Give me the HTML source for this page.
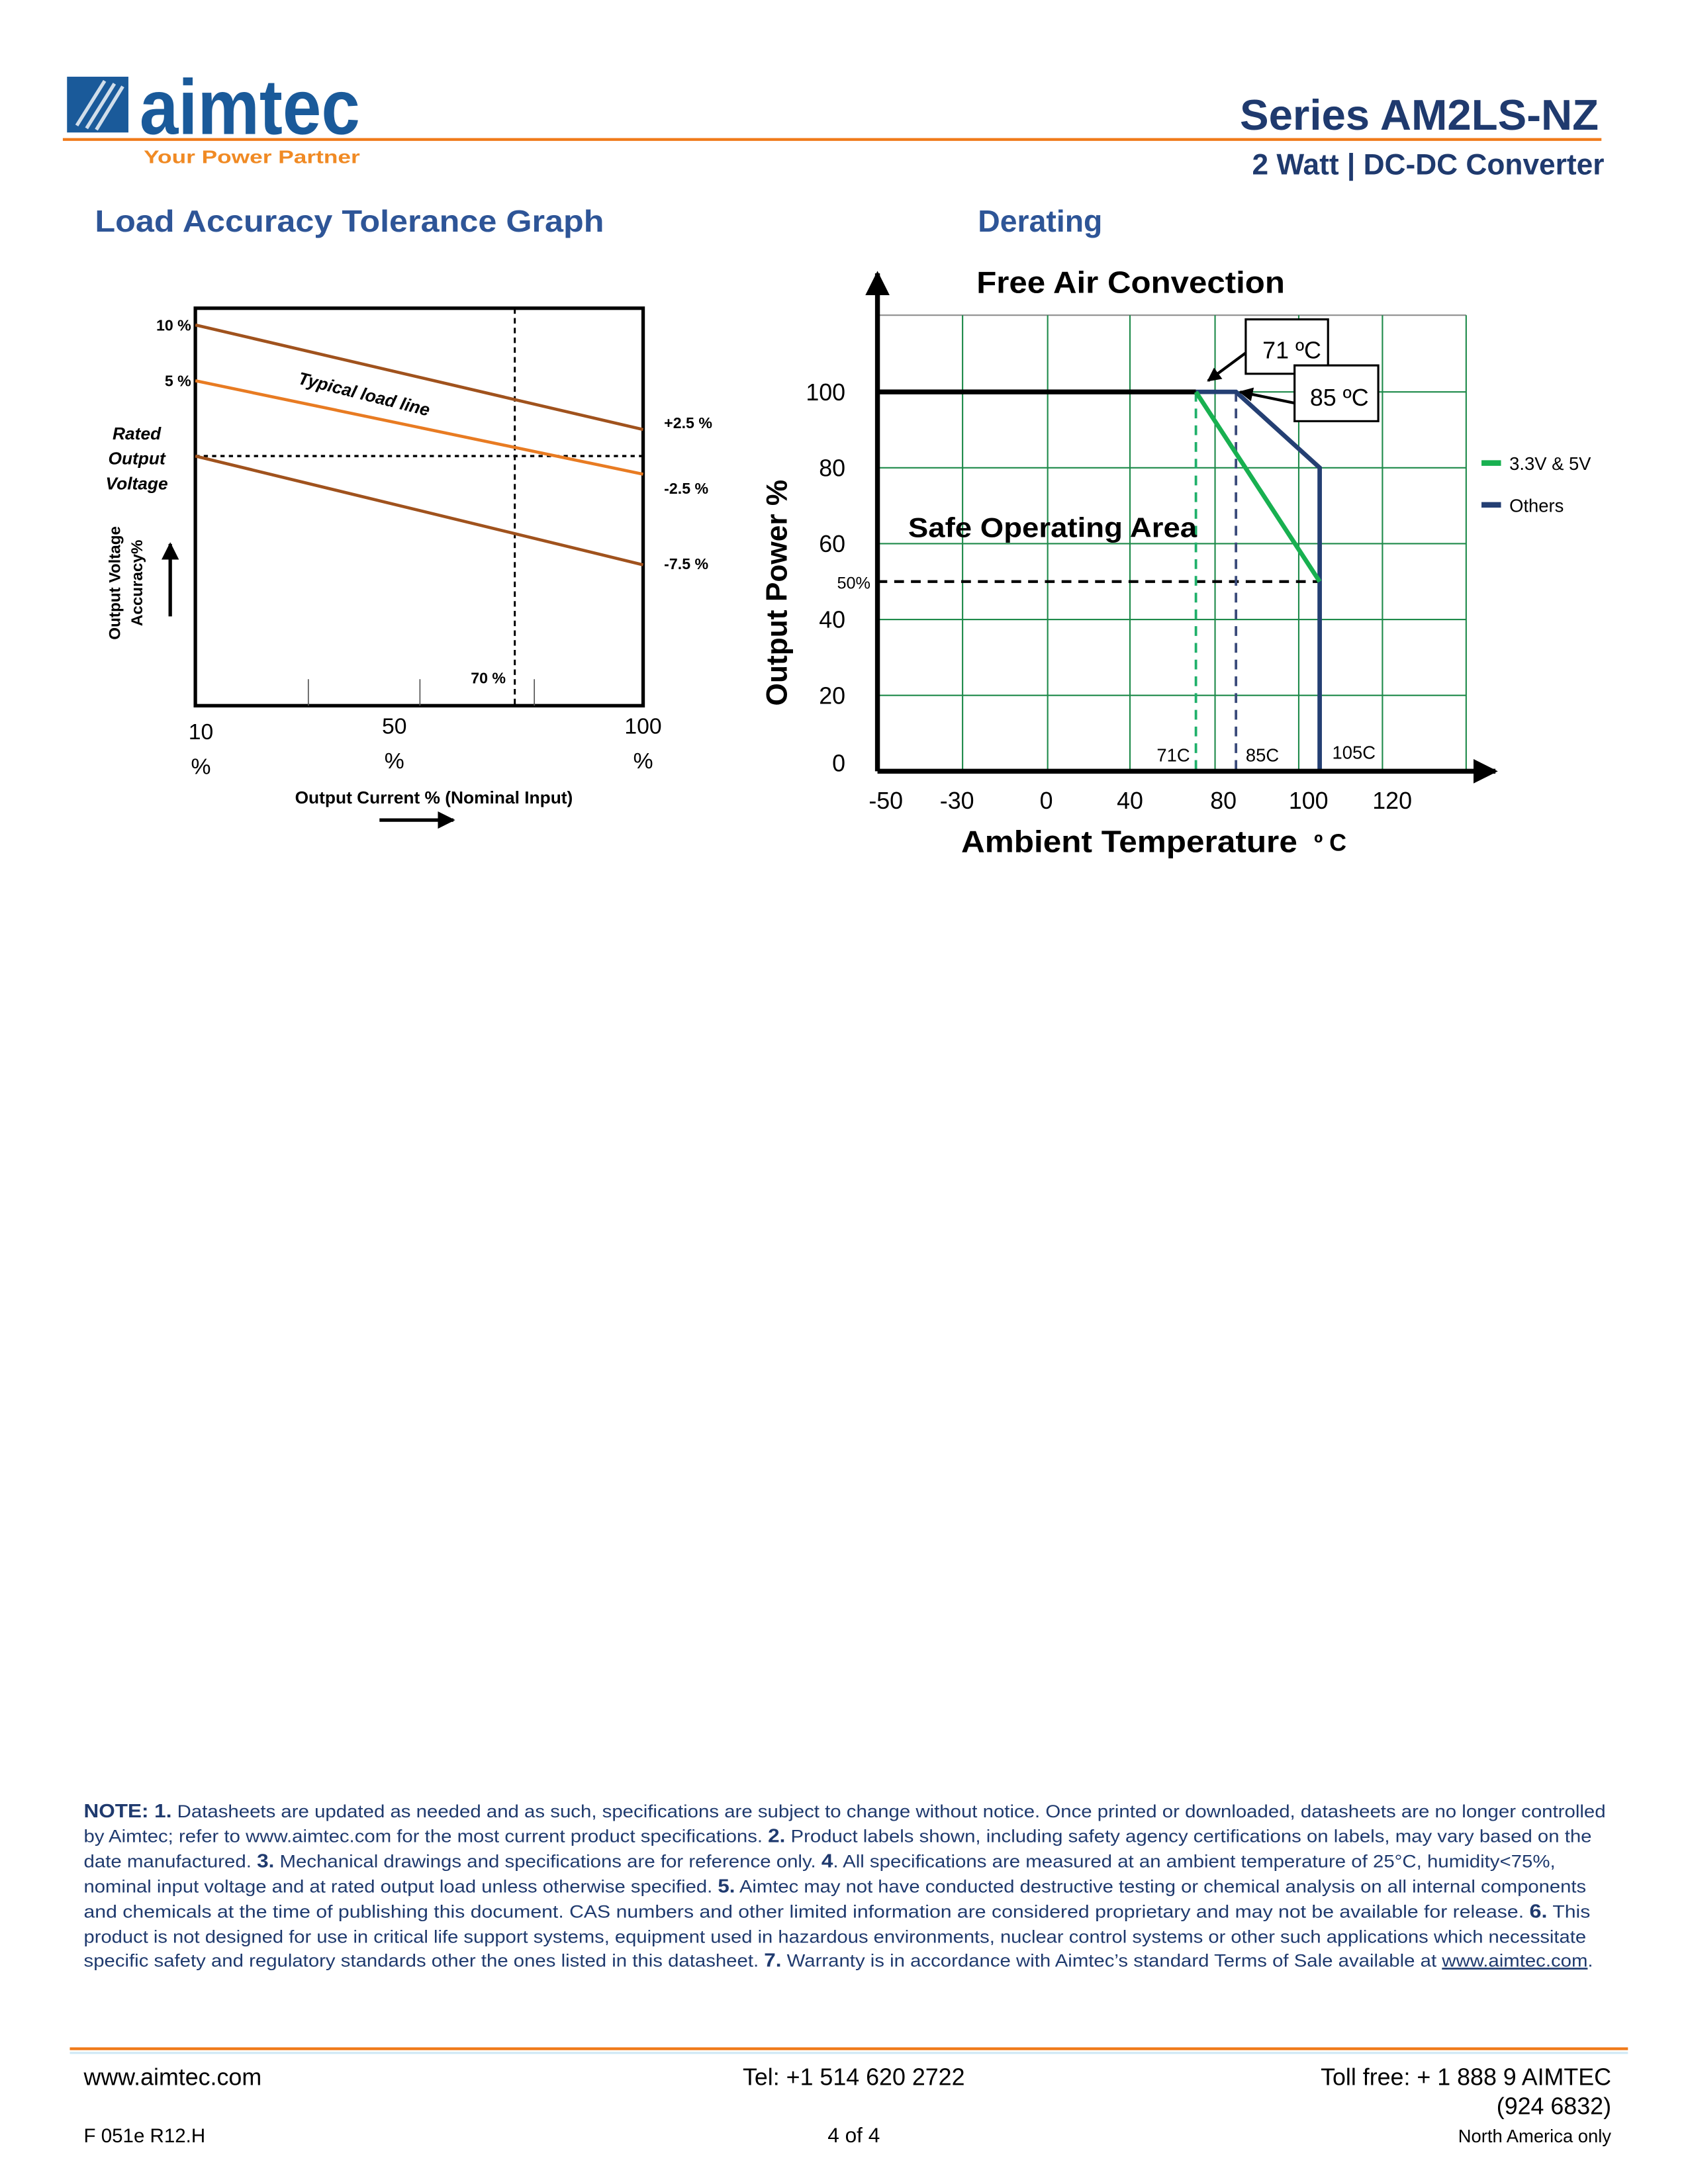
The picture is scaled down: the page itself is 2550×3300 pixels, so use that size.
<!DOCTYPE html>
<html><head><meta charset="utf-8"><style>
html,body{margin:0;padding:0;background:#fff}
svg{display:block}
text{font-family:"Liberation Sans",sans-serif}
</style></head><body>
<svg id="page" width="2550" height="3300" viewBox="0 0 1210 1566" xmlns="http://www.w3.org/2000/svg">
<defs>
<marker id="ah" viewBox="0 0 10 10" refX="9" refY="5" markerWidth="5" markerHeight="5" orient="auto"><path d="M0,0L10,5L0,10z" fill="#000"/></marker>
</defs>
<g>
  <g>
    <rect x="48" y="55" width="44" height="40" fill="#1a5a9a"/>
    <path d="M55,90 L75,58 M62,92 L82,60 M69,93 L88,62" stroke="#fff" stroke-width="2.5" opacity="0.8"/>
    <text x="100" y="96" font-size="56" font-weight="bold" fill="#1a5a9a" textLength="158" lengthAdjust="spacingAndGlyphs">aimtec</text>
    <text x="103" y="117" font-size="13" font-weight="bold" fill="#f08a24" textLength="155" lengthAdjust="spacingAndGlyphs">Your Power Partner</text>
  </g>
  <line x1="45" y1="100" x2="1148" y2="100" stroke="#f07a1a" stroke-width="2"/>
  <text x="1146" y="93" text-anchor="end" font-size="31" font-weight="bold" fill="#1f3a6e">Series AM2LS-NZ</text>
  <text x="1150" y="125" text-anchor="end" font-size="21" font-weight="bold" fill="#1f3a6e">2 Watt | DC-DC Converter</text>
  <text x="68" y="166" font-size="22" font-weight="bold" fill="#2e5597" textLength="365" lengthAdjust="spacingAndGlyphs">Load Accuracy Tolerance Graph</text>
  <text x="701" y="166" font-size="22" font-weight="bold" fill="#2e5597">Derating</text>
</g>

<g id="chart1"></g>
<g id="chart2"></g>

<g font-size="12.6" fill="#1f3a6e">
  <text x="60" y="1303" textLength="1091" lengthAdjust="spacingAndGlyphs"><tspan font-weight="bold" font-size="13.5">NOTE: 1.</tspan> Datasheets are updated as needed and as such, specifications are subject to change without notice.  Once printed or downloaded, datasheets are no longer controlled</text>
  <text x="60" y="1321" textLength="1081" lengthAdjust="spacingAndGlyphs">by Aimtec; refer to www.aimtec.com for the most current product specifications.  <tspan font-weight="bold" font-size="13.5">2.</tspan> Product labels shown, including safety agency certifications on labels, may vary based on the</text>
  <text x="60" y="1339" textLength="1055" lengthAdjust="spacingAndGlyphs">date manufactured.  <tspan font-weight="bold" font-size="13.5">3.</tspan> Mechanical drawings and specifications are for reference only.  <tspan font-weight="bold" font-size="13.5">4</tspan>. All specifications are measured at an ambient temperature of 25°C, humidity&lt;75%,</text>
  <text x="60" y="1357" textLength="1077" lengthAdjust="spacingAndGlyphs">nominal input voltage and at rated output load unless otherwise specified. <tspan font-weight="bold" font-size="13.5">5.</tspan> Aimtec may not have conducted destructive testing or chemical analysis on all internal components</text>
  <text x="60" y="1375" textLength="1080" lengthAdjust="spacingAndGlyphs">and chemicals at the time of publishing this document.  CAS numbers and other limited information are considered proprietary and may not be available for release.  <tspan font-weight="bold" font-size="13.5">6.</tspan> This</text>
  <text x="60" y="1393" textLength="1077" lengthAdjust="spacingAndGlyphs">product is not designed for use in critical life support systems, equipment used in hazardous environments, nuclear control systems or other such applications which necessitate</text>
  <text x="60" y="1410" textLength="1082" lengthAdjust="spacingAndGlyphs">specific safety and regulatory standards other the ones listed in this datasheet. <tspan font-weight="bold" font-size="13.5">7.</tspan> Warranty is in accordance with Aimtec’s standard Terms of Sale available at <tspan text-decoration="underline">www.aimtec.com</tspan>.</text>
</g>

<g>
  <line x1="50" y1="1469" x2="1167" y2="1469" stroke="#f07a1a" stroke-width="2"/>
  <line x1="50" y1="1472" x2="1167" y2="1472" stroke="#cfe8f5" stroke-width="1.5"/>
  <text x="60" y="1495" font-size="17" fill="#000">www.aimtec.com</text>
  <text x="612" y="1495" text-anchor="middle" font-size="17" fill="#000">Tel: +1 514 620 2722</text>
  <text x="1155" y="1495" text-anchor="end" font-size="17" fill="#000">Toll free: + 1 888 9 AIMTEC</text>
  <text x="1155" y="1516" text-anchor="end" font-size="17" fill="#000">(924 6832)</text>
  <text x="60" y="1536" font-size="14" fill="#000">F 051e R12.H</text>
  <text x="612" y="1536" text-anchor="middle" font-size="15" fill="#000">4 of 4</text>
  <text x="1155" y="1536" text-anchor="end" font-size="13" fill="#000">North America only</text>
</g>
</svg>
<script>
// ---- Chart 1 data ----
const loadX = [10, 100];
const lineTop = [10, 2.5];
const lineMid = [5, -2.5];
const lineBot = [0, -7.5];
const rightLabels = ["+2.5 %", "-2.5 %", "-7.5 %"];
const xTickLabels = ["10", "50", "100"];
const xTickVals = [10, 50, 100];
// ---- Chart 2 data ----
const tempTicks = [-50, -30, 0, 40, 80, 100, 120];
const powerTicks = [0, 20, 40, 60, 80, 100];
const lowVTemps = [71, 105];
const lowVPower = [100, 50];
const othersTemps = [71, 85, 105, 105];
const othersPower = [100, 100, 80, 0];
const fullTemps = [-50, 71];
const fullPower = [100, 100];

const NS = "http://www.w3.org/2000/svg";
function mk(parent, tag, attrs, txt) {
  const e = document.createElementNS(NS, tag);
  for (const k in attrs) e.setAttribute(k, attrs[k]);
  if (txt !== undefined) e.textContent = txt;
  parent.appendChild(e);
  return e;
}

// ===== Chart 1 =====
(function () {
  const g = document.getElementById('chart1');
  const L = 140, R = 461, T = 221, B = 506;
  const xs = v => L + (v - 10) / 90 * (R - L);
  const av = [-7.5, -2.5, 0, 2.5, 5, 10];
  const ay = [405, 340, 327, 308, 273, 233];
  function ys(v) {
    for (let i = 0; i < av.length - 1; i++) {
      if (v <= av[i + 1]) return ay[i] + (v - av[i]) / (av[i + 1] - av[i]) * (ay[i + 1] - ay[i]);
    }
    return ay[ay.length - 1];
  }
  mk(g, 'rect', {x: L, y: T, width: R - L, height: B - T, fill: 'none', stroke: '#000', 'stroke-width': 2.5});
  [221, 301, 383].forEach(x => mk(g, 'line', {x1: x, y1: 487, x2: x, y2: B, stroke: '#555', 'stroke-width': 0.8}));
  mk(g, 'line', {x1: L, y1: ys(0), x2: R, y2: ys(0), stroke: '#000', 'stroke-width': 1.6, 'stroke-dasharray': '3,3'});
  mk(g, 'line', {x1: 369, y1: T, x2: 369, y2: B, stroke: '#000', 'stroke-width': 1.4, 'stroke-dasharray': '4,3'});
  const series = [[lineTop, '#a0521d', 'top-tolerance-line'], [lineMid, '#e87b22', 'typical-load-line'], [lineBot, '#a0521d', 'bottom-tolerance-line']];
  const labOff = [-1, 14, 3];
  series.forEach((s, i) => {
    const l = mk(g, 'line', {x1: xs(loadX[0]), y1: ys(s[0][0]), x2: xs(loadX[1]), y2: ys(s[0][1]), stroke: s[1], 'stroke-width': 2.2});
    
    
    const t = mk(g, 'text', {x: 476, y: ys(s[0][1]) + labOff[i], 'font-size': 11, 'font-weight': 'bold'}, rightLabels[i]);
    
    
  });
  mk(g, 'text', {x: 137, y: ys(10) + 4, 'font-size': 11, 'font-weight': 'bold', 'text-anchor': 'end'}, '10 %');
  mk(g, 'text', {x: 137, y: ys(5) + 4, 'font-size': 11, 'font-weight': 'bold', 'text-anchor': 'end'}, '5 %');
  mk(g, 'text', {x: 213, y: 275, 'font-size': 12.5, 'font-style': 'italic', 'font-weight': 'bold', transform: 'rotate(14 213 275)'}, 'Typical load line');
  ['Rated', 'Output', 'Voltage'].forEach((w, i) => mk(g, 'text', {x: 98, y: 315 + i * 18, 'font-size': 12.5, 'font-style': 'italic', 'font-weight': 'bold', 'text-anchor': 'middle'}, w));
  mk(g, 'text', {x: 86, y: 418, 'font-size': 11.5, 'font-weight': 'bold', 'text-anchor': 'middle', transform: 'rotate(-90 86 418)'}, 'Output Voltage');
  mk(g, 'text', {x: 102, y: 418, 'font-size': 11.5, 'font-weight': 'bold', 'text-anchor': 'middle', transform: 'rotate(-90 102 418)'}, 'Accuracy%');
  mk(g, 'line', {x1: 122, y1: 442, x2: 122, y2: 390, stroke: '#000', 'stroke-width': 2.5, 'marker-end': 'url(#ah)'});
  mk(g, 'text', {x: 350, y: 490, 'font-size': 11, 'font-weight': 'bold', 'text-anchor': 'middle'}, '70 %');
  xTickVals.forEach((v, i) => {
    const x = xs(v) + (i === 0 ? 4 : 0);
    const t = mk(g, 'text', {x: x, y: i === 0 ? 530 : 526, 'font-size': 16, 'text-anchor': 'middle'}, xTickLabels[i]);
    
    
    mk(g, 'text', {x: x, y: i === 0 ? 555 : 551, 'font-size': 16, 'text-anchor': 'middle'}, '%');
  });
  mk(g, 'text', {x: 311, y: 576, 'font-size': 12.5, 'font-weight': 'bold', 'text-anchor': 'middle'}, 'Output Current % (Nominal Input)');
  mk(g, 'line', {x1: 272, y1: 588, x2: 325, y2: 588, stroke: '#000', 'stroke-width': 2.5, 'marker-end': 'url(#ah)'});
})();

// ===== Chart 2 =====
(function () {
  const g = document.getElementById('chart2');
  const L = 629, R = 1051, T = 226, B = 553;
  const gx = [629, 690, 751, 810, 871, 931, 991, 1051];
  function xs(v) {
    for (let i = 0; i < tempTicks.length - 1; i++) {
      if (v <= tempTicks[i + 1]) return gx[i] + (v - tempTicks[i]) / (tempTicks[i + 1] - tempTicks[i]) * (gx[i + 1] - gx[i]);
    }
    return gx[6] + (v - 120) * 3;
  }
  const ys = v => B - v / 20 * 54.4;
  mk(g, 'line', {x1: L, y1: T, x2: R, y2: T, stroke: '#888', 'stroke-width': 1});
  gx.slice(1).forEach(x => mk(g, 'line', {x1: x, y1: T, x2: x, y2: B, stroke: '#1e8a4a', 'stroke-width': 1}));
  powerTicks.slice(1).forEach(p => mk(g, 'line', {x1: L, y1: ys(p), x2: R, y2: ys(p), stroke: '#1e8a4a', 'stroke-width': 1}));
  powerTicks.forEach(p => {
    const t = mk(g, 'text', {x: 606, y: ys(p) + (p === 0 ? 0 : 6), 'font-size': 17, 'text-anchor': 'end'}, String(p));
    
    
  });
  const tlx = [635, 686, 750, 810, 877, 938, 998];
  tempTicks.forEach((v, i) => {
    const t = mk(g, 'text', {x: tlx[i], y: 580, 'font-size': 17, 'text-anchor': 'middle'}, String(v));
    
    
  });
  mk(g, 'line', {x1: L, y1: ys(50), x2: xs(105), y2: ys(50), stroke: '#000', 'stroke-width': 2, 'stroke-dasharray': '7,5'});
  mk(g, 'line', {x1: xs(71), y1: ys(100), x2: xs(71), y2: B, stroke: '#1fb06a', 'stroke-width': 1.8, 'stroke-dasharray': '7,5'});
  mk(g, 'line', {x1: xs(85), y1: ys(100), x2: xs(85), y2: B, stroke: '#3a4a7a', 'stroke-width': 1.8, 'stroke-dasharray': '7,5'});
  function poly(tx, pw, col, w, name) {
    const p = mk(g, 'polyline', {points: tx.map((t, i) => xs(t) + ',' + ys(pw[i])).join(' '), fill: 'none', stroke: col, 'stroke-width': w});
    
    
  }
  poly(fullTemps, fullPower, '#000', 3.5, 'full-power-line');
  poly(othersTemps, othersPower, '#243f73', 3.2, 'others-derating-line');
  poly(lowVTemps, lowVPower, '#18b050', 3.2, '3v3-5v-derating-line');
  mk(g, 'line', {x1: L, y1: B, x2: L, y2: 196, stroke: '#000', 'stroke-width': 3.5, 'marker-end': 'url(#ah)'});
  mk(g, 'line', {x1: L, y1: B, x2: 1072, y2: B, stroke: '#000', 'stroke-width': 3.5, 'marker-end': 'url(#ah)'});
  mk(g, 'text', {x: 600, y: 422, 'font-size': 12}, '50%');
  mk(g, 'text', {x: 853, y: 546, 'font-size': 13, 'text-anchor': 'end'}, '71C');
  mk(g, 'text', {x: 893, y: 546, 'font-size': 13}, '85C');
  mk(g, 'text', {x: 955, y: 544, 'font-size': 13}, '105C');
  mk(g, 'line', {x1: 893, y1: 253, x2: 866, y2: 273, stroke: '#000', 'stroke-width': 2, 'marker-end': 'url(#ah)'});
  mk(g, 'line', {x1: 928, y1: 289, x2: 889, y2: 281, stroke: '#000', 'stroke-width': 2, 'marker-end': 'url(#ah)'});
  const b1 = mk(g, 'g', {});
  
  
  mk(b1, 'rect', {x: 893, y: 229, width: 59, height: 39, fill: '#fff', stroke: '#000', 'stroke-width': 1.5});
  mk(b1, 'text', {x: 905, y: 257, 'font-size': 17}, '71 ºC');
  const b2 = mk(g, 'g', {});
  
  
  mk(b2, 'rect', {x: 928, y: 262, width: 60, height: 40, fill: '#fff', stroke: '#000', 'stroke-width': 1.5});
  mk(b2, 'text', {x: 939, y: 291, 'font-size': 17}, '85 ºC');
  mk(g, 'text', {x: 700, y: 210, 'font-size': 22, 'font-weight': 'bold', textLength: 221, lengthAdjust: 'spacingAndGlyphs'}, 'Free Air Convection');
  mk(g, 'text', {x: 651, y: 385, 'font-size': 20, 'font-weight': 'bold', textLength: 207, lengthAdjust: 'spacingAndGlyphs'}, 'Safe Operating Area');
  mk(g, 'text', {x: 564, y: 425, 'font-size': 21, 'font-weight': 'bold', 'text-anchor': 'middle', transform: 'rotate(-90 564 425)'}, 'Output Power %');
  mk(g, 'text', {x: 689, y: 611, 'font-size': 22, 'font-weight': 'bold', textLength: 241, lengthAdjust: 'spacingAndGlyphs'}, 'Ambient Temperature');
  mk(g, 'text', {x: 942, y: 610, 'font-size': 17, 'font-weight': 'bold'}, 'º C');
  const lg1 = mk(g, 'line', {x1: 1062, y1: 332, x2: 1076, y2: 332, stroke: '#18b050', 'stroke-width': 4});
  
  
  mk(g, 'text', {x: 1082, y: 337, 'font-size': 13}, '3.3V & 5V');
  const lg2 = mk(g, 'line', {x1: 1062, y1: 362, x2: 1076, y2: 362, stroke: '#243f73', 'stroke-width': 4});
  
  
  mk(g, 'text', {x: 1082, y: 367, 'font-size': 13}, 'Others');
})();
</script>
</body></html>
